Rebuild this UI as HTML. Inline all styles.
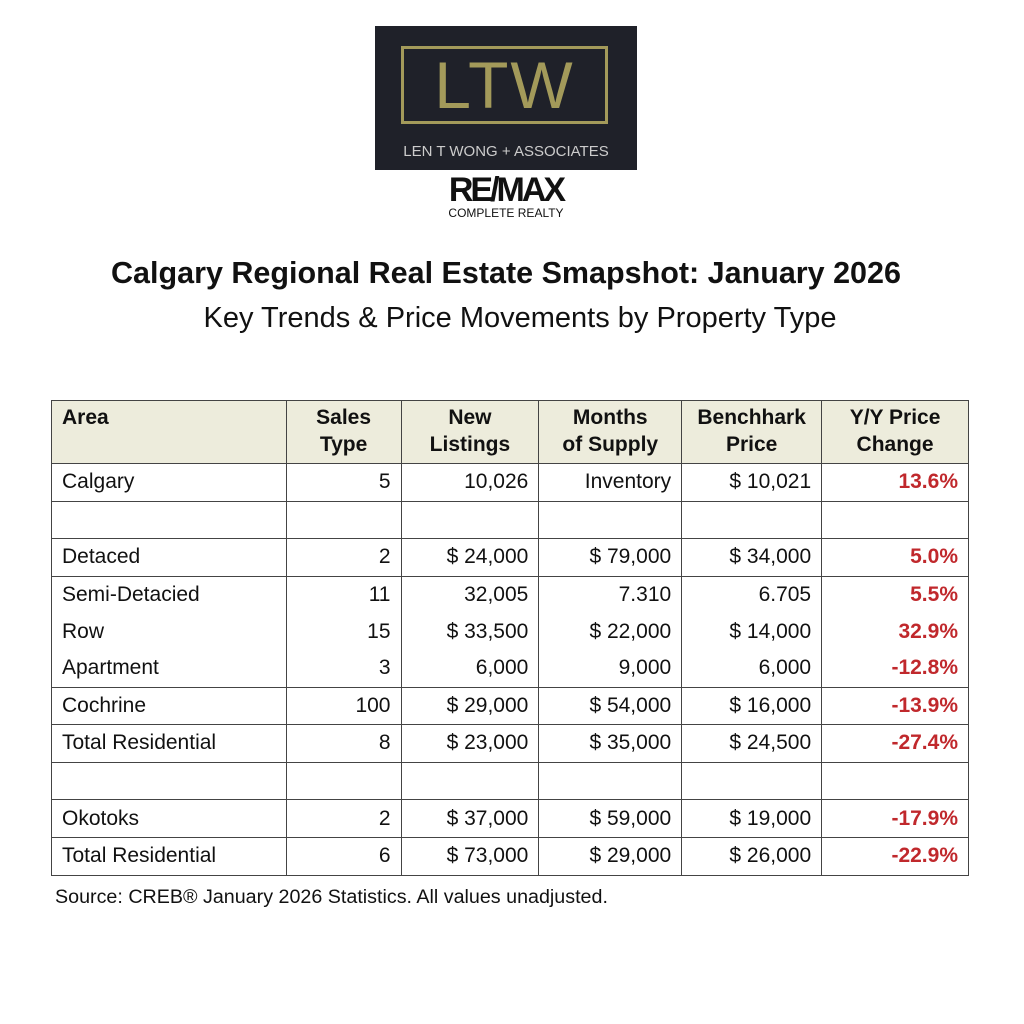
<!DOCTYPE html>
<html><head><meta charset="utf-8"><style>
body{margin:0;width:1024px;height:1024px;background:#fff;font-family:"Liberation Sans",sans-serif;position:relative;overflow:hidden;color:#111}
.logo{position:absolute;left:375px;top:26px;width:262px;height:144px;background:#1f2129}
.frame{position:absolute;left:401px;top:46px;width:207px;height:78px;border:3px solid #a39a5a;box-sizing:border-box}
.ltw{position:absolute;left:401px;top:46px;width:207px;text-align:center;font-size:66px;line-height:78px;color:#a39a5a;letter-spacing:2px}
.len{position:absolute;left:375px;top:143px;width:262px;text-align:center;font-size:15px;color:#ccc}
.remax{position:absolute;left:375px;top:172px;width:262px;text-align:center;font-size:34px;font-weight:bold;letter-spacing:-3px;line-height:36px}
.cr{position:absolute;left:375px;top:206px;width:262px;text-align:center;font-size:12px}
.t1{position:absolute;top:256px;left:-6px;width:1024px;text-align:center;font-size:30.5px;font-weight:bold}
.t2{position:absolute;top:302px;left:8px;width:1024px;text-align:center;font-size:29px}
table{position:absolute;left:51px;top:400px;width:918px;border-collapse:collapse;font-size:21px}
td{border:1.5px solid #444;padding:0 10px;height:36.6px;text-align:right;white-space:nowrap}
td:first-child{text-align:left}
tr.h td{background:#edecdc;font-weight:bold;text-align:center;height:59px;line-height:27px;vertical-align:top;padding-top:3px}
tr.h td:first-child{text-align:left}
.r{color:#c0282c;font-weight:bold}
tr.nb td{border-bottom:none}
tr.nt td{border-top:none}
.src{position:absolute;left:55px;top:886px;font-size:19.7px}
</style></head><body>
<div class="logo"></div><div class="frame"></div><div class="ltw">LTW</div>
<div class="len">LEN T WONG + ASSOCIATES</div>
<div class="remax">RE/MAX</div><div class="cr">COMPLETE REALTY</div>
<div class="t1">Calgary Regional Real Estate Smapshot: January 2026</div>
<div class="t2">Key Trends &amp; Price Movements by Property Type</div>
<table>
<colgroup><col style="width:235px"><col style="width:115px"><col style="width:138px"><col style="width:143px"><col style="width:140px"><col style="width:147px"></colgroup>
<tr class="h"><td>Area</td><td>Sales<br>Type</td><td>New<br>Listings</td><td>Months<br>of Supply</td><td>Benchhark<br>Price</td><td>Y/Y Price<br>Change</td></tr>
<tr><td>Calgary</td><td>5</td><td>10,026</td><td>Inventory</td><td>$ 10,021</td><td class="r">13.6%</td></tr>
<tr><td></td><td></td><td></td><td></td><td></td><td></td></tr>
<tr><td>Detaced</td><td>2</td><td>$ 24,000</td><td>$ 79,000</td><td>$ 34,000</td><td class="r">5.0%</td></tr>
<tr class="nb"><td>Semi-Detacied</td><td>11</td><td>32,005</td><td>7.310</td><td>6.705</td><td class="r">5.5%</td></tr>
<tr class="nb nt"><td>Row</td><td>15</td><td>$ 33,500</td><td>$ 22,000</td><td>$ 14,000</td><td class="r">32.9%</td></tr>
<tr class="nt"><td>Apartment</td><td>3</td><td>6,000</td><td>9,000</td><td>6,000</td><td class="r">-12.8%</td></tr>
<tr><td>Cochrine</td><td>100</td><td>$ 29,000</td><td>$ 54,000</td><td>$ 16,000</td><td class="r">-13.9%</td></tr>
<tr><td>Total Residential</td><td>8</td><td>$ 23,000</td><td>$ 35,000</td><td>$ 24,500</td><td class="r">-27.4%</td></tr>
<tr><td></td><td></td><td></td><td></td><td></td><td></td></tr>
<tr><td>Okotoks</td><td>2</td><td>$ 37,000</td><td>$ 59,000</td><td>$ 19,000</td><td class="r">-17.9%</td></tr>
<tr><td>Total Residential</td><td>6</td><td>$ 73,000</td><td>$ 29,000</td><td>$ 26,000</td><td class="r">-22.9%</td></tr>
</table>
<div class="src">Source: CREB® January 2026 Statistics. All values unadjusted.</div>
</body></html>
